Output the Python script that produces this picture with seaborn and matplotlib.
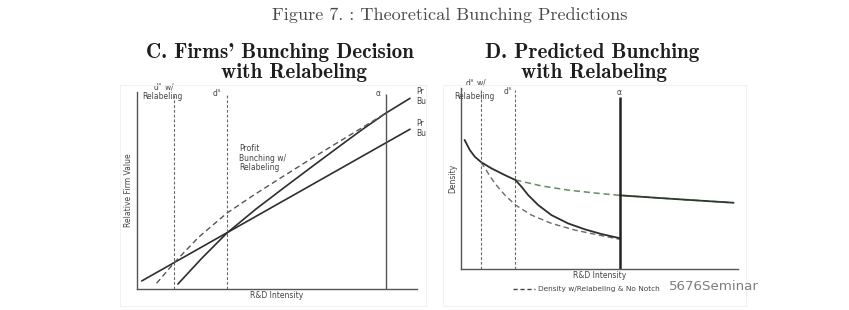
import matplotlib
matplotlib.use("Agg")
import matplotlib.pyplot as plt
from matplotlib.patches import Rectangle
from matplotlib.lines import Line2D
import seaborn as sns

sns.set_style("white")
plt.rcParams["font.family"] = ["DejaVu Sans"]

W, H = 849, 310

# ---- Panel C: firms' bunching decision (relative firm value vs R&D intensity)
c_flat_x = [1.7, 97.5]
c_flat_y = [4.1, 81.1]
c_steep_x = [14.6, 23.0, 32.1, 42.5, 53.5, 62.5, 71.3, 80.0, 88.9, 97.5]
c_steep_y = [2.5, 15.4, 28.4, 40.6, 52.5, 62.1, 71.4, 80.5, 89.3, 96.8]
c_relabel_x = [7.0, 13.2, 22.0, 32.0, 41.5, 51.1, 60.5, 70.0, 79.6, 88.8]
c_relabel_y = [2.9, 13.2, 26.3, 38.4, 47.5, 56.2, 64.6, 72.9, 81.2, 89.2]
c_cutoffs = [13.2, 32.1]
c_alpha = 88.9

# ---- Panel D: predicted bunching (density vs R&D intensity)
d_density_x = [1.4, 3.3, 5.1, 7.4, 11.1, 15.9, 19.7, 21.9, 24.3, 27.9, 32.7,
               38.7, 44.8, 50.8, 57.4]
d_density_y = [71.3, 65.7, 62.0, 59.0, 55.6, 51.9, 49.2, 45.5, 40.9, 35.4, 29.8,
               25.2, 21.9, 19.3, 17.0]
d_relabel_x = [7.4, 9.9, 12.3, 15.9, 19.7, 25.5, 32.7, 41.2, 49.6, 57.4]
d_relabel_y = [59.0, 52.9, 47.3, 40.9, 35.4, 29.8, 25.2, 21.5, 18.8, 16.4]
d_nonotch_x = [19.7, 29.1, 38.7, 49.6, 57.4, 76.8, 98.4]
d_nonotch_y = [49.2, 45.9, 43.6, 41.8, 40.7, 38.7, 36.6]
d_upper_x = [57.4, 76.8, 98.4]
d_upper_y = [40.7, 38.7, 36.6]
d_cutoffs = [7.4, 19.7]
d_alpha = 57.4

fig = plt.figure(figsize=(W / 100, H / 100), dpi=100)
fig.patch.set_facecolor("white")


def fx(px):
    return px / W


def fy(py):
    return 1 - py / H


# faint panel frames
for (x0, y0, x1, y1) in [(120, 85, 426, 306), (443, 85, 746, 306)]:
    fig.patches.append(Rectangle((fx(x0), fy(y1)), fx(x1) - fx(x0), fy(y0) - fy(y1),
                                 transform=fig.transFigure, fill=False,
                                 edgecolor="#f1f1f1", lw=0.8))

# headings
fig.text(fx(450), fy(15), "Figure 7. : Theoretical Bunching Predictions",
         ha="center", va="center", fontsize=13.1, family="cmr10", color="#4a4a4a")
head = dict(ha="center", va="center", fontsize=15.2, family="cmb10", color="#1e1e1e")
fig.text(fx(280), fy(53), "C. Firms' Bunching Decision", **head)
fig.text(fx(294), fy(73), "with Relabeling", **head)
fig.text(fx(592), fy(53), "D. Predicted Bunching", **head)
fig.text(fx(594), fy(73), "with Relabeling", **head)

small = dict(fontsize=5.5, color="#444444")
dark = "#2e2e2e"

# ---------------- Panel C ----------------
axC = fig.add_axes([fx(137), fy(289), fx(417) - fx(137), fy(92) - fy(289)])
sns.lineplot(x=c_flat_x, y=c_flat_y, ax=axC, color=dark, lw=1.2)
sns.lineplot(x=c_steep_x, y=c_steep_y, ax=axC, color=dark, lw=1.2)
sns.lineplot(x=c_relabel_x, y=c_relabel_y, ax=axC, color="#555555", lw=1.0,
             linestyle=(0, (4, 2.5)))
axC.vlines(c_cutoffs, 0, 99, colors="#666666", lw=0.8, linestyles=(0, (2.5, 1.8)))
axC.vlines([c_alpha], 0, 99, colors="#555555", lw=1.0)
axC.set_xlim(0, 100)
axC.set_ylim(0, 100)
axC.set_xticks([])
axC.set_yticks([])
axC.set_xlabel("")
axC.set_ylabel("")
for s in ["top", "right"]:
    axC.spines[s].set_visible(False)
for s in ["left", "bottom"]:
    axC.spines[s].set_color("#555555")
    axC.spines[s].set_linewidth(1.0)

axC.text(9.8, 102.8, "d$^{\\wedge}$ w/", ha="center", va="center", clip_on=False, **small)
axC.text(9.0, 97.6, "Relabeling", ha="center", va="center", clip_on=False, **small)
axC.text(28.6, 99.5, "d$^{\\wedge}$", ha="center", va="center", clip_on=False, **small)
axC.text(86.0, 99.0, "\u03b1", ha="center", va="center", clip_on=False, **small)
axC.text(99.6, 100.0, "Pr", ha="left", va="center", clip_on=False, **small)
axC.text(99.6, 95.0, "Bu", ha="left", va="center", clip_on=False, **small)
axC.text(99.6, 84.0, "Pr", ha="left", va="center", clip_on=False, **small)
axC.text(99.6, 79.0, "Bu", ha="left", va="center", clip_on=False, **small)
axC.text(36.5, 73.5, "Profit\nBunching w/\nRelabeling", ha="left", va="top",
         linespacing=1.05, **small)
axC.text(50, -1.2, "R&D Intensity", ha="center", va="top", clip_on=False, **small)
axC.text(-3.0, 50, "Relative Firm Value", ha="center", va="center", rotation=90,
         clip_on=False, **small)

# ---------------- Panel D ----------------
axD = fig.add_axes([fx(460.7), fy(269), fx(738) - fx(460.7), fy(88) - fy(269)])
sns.lineplot(x=d_relabel_x, y=d_relabel_y, ax=axD, color="#6a6a6a", lw=1.0,
             linestyle=(0, (4, 2.5)))
sns.lineplot(x=d_nonotch_x, y=d_nonotch_y, ax=axD, color="#5f8f5f", lw=1.1,
             linestyle=(0, (4, 2.5)))
sns.lineplot(x=d_density_x, y=d_density_y, ax=axD, color=dark, lw=1.3)
sns.lineplot(x=d_upper_x, y=d_upper_y, ax=axD, color="#2f3a2f", lw=1.3)
axD.vlines(d_cutoffs, 0, 99, colors="#666666", lw=0.8, linestyles=(0, (2.5, 1.8)))
axD.vlines([d_alpha], 0, 95, colors="#222222", lw=1.8)
axD.set_xlim(0, 100)
axD.set_ylim(0, 100)
axD.set_xticks([])
axD.set_yticks([])
axD.set_xlabel("")
axD.set_ylabel("")
for s in ["top", "right"]:
    axD.spines[s].set_visible(False)
for s in ["left", "bottom"]:
    axD.spines[s].set_color("#555555")
    axD.spines[s].set_linewidth(1.0)

axD.text(5.5, 103.2, "d$^{\\wedge}$ w/", ha="center", va="center", clip_on=False, **small)
axD.text(4.8, 95.5, "Relabeling", ha="center", va="center", clip_on=False, **small)
axD.text(17.2, 98.5, "d$^{\\wedge}$", ha="center", va="center", clip_on=False, **small)
axD.text(57.0, 97.5, "\u03b1", ha="center", va="center", clip_on=False, **small)
axD.text(50, -1.0, "R&D Intensity", ha="center", va="top", clip_on=False, **small)
axD.text(-3.0, 50, "Density", ha="center", va="center", rotation=90,
         clip_on=False, **small)

handle = Line2D([], [], color="#444444", lw=1.0, linestyle=(0, (3, 2)))
fig.legend([handle], ["Density w/Relabeling & No Notch"], loc="center left",
           bbox_to_anchor=(fx(506), fy(289)), frameon=False, fontsize=5.3,
           handlelength=3.0, handletextpad=0.5, labelcolor="#444444")

# source watermark
fig.text(fx(669), fy(287), "5676Seminar", fontsize=9.6, color="#7e7e7e",
         ha="left", va="center", family="DejaVu Sans")

fig.savefig("out.png", dpi=100, facecolor="white")
